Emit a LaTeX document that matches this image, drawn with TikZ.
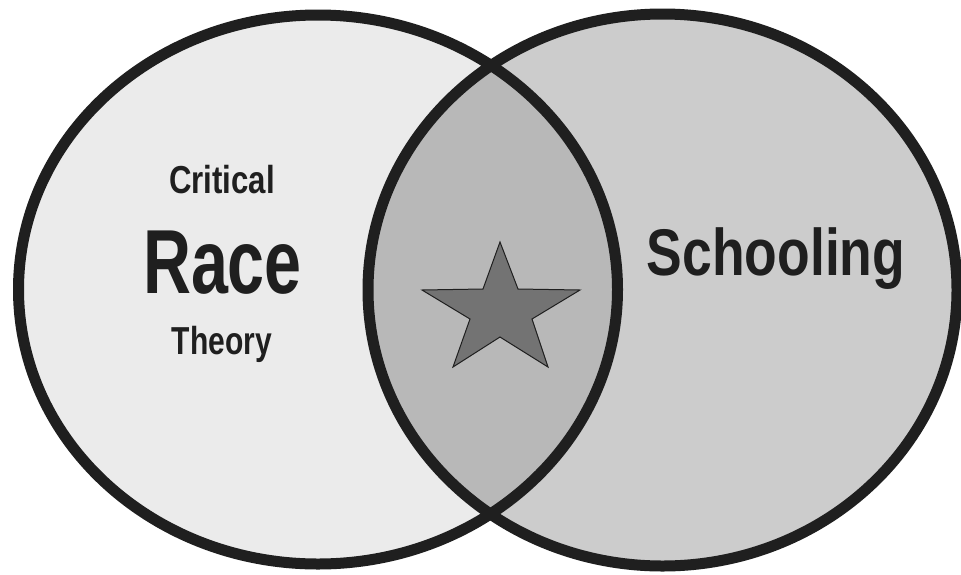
\documentclass[tikz,border=0pt]{standalone}
\usepackage{fontspec}
\setmainfont{Liberation Sans}
\definecolor{leftfill}{gray}{0.92}
\definecolor{rightfill}{gray}{0.80}
\definecolor{midfill}{gray}{0.72}
\definecolor{starfill}{gray}{0.45}
\definecolor{ink}{gray}{0.12}
\tikzset{
  ring/.style={draw=ink, line width=11pt},
  lbl/.style={anchor=base, inner sep=0pt, text=ink, font=\bfseries}
}
\begin{document}
\begin{tikzpicture}[x=1pt,y=-1pt]
\useasboundingbox (0,0) rectangle (961,574);
\fill[white] (0,0) rectangle (961,574);
% fills
\fill[leftfill] (318,289.5) ellipse [x radius=299.5, y radius=274.5];
\fill[rightfill] (662.5,290) ellipse [x radius=294.5, y radius=276];
\begin{scope}
  \clip (318,289.5) ellipse [x radius=299.5, y radius=274.5];
  \fill[midfill] (662.5,290) ellipse [x radius=294.5, y radius=276];
\end{scope}
% rings
\draw[ring] (318,289.5) ellipse [x radius=299.5, y radius=274.5];
\draw[ring] (662.5,290) ellipse [x radius=294.5, y radius=276];
% star
\draw[fill=starfill, draw=ink, line width=1pt]
  (500,242) -- (518,289) -- (580,290) -- (532,319) -- (548,367)
  -- (500,337) -- (453,367) -- (470,319) -- (422,290) -- (483,289) -- cycle;
% texts
\node[lbl] (critical) at (222,193) {\fontsize{39}{39}\selectfont\scalebox{0.80}[1]{Critical}};
\node[lbl] (race) at (222.5,293) {\fontsize{91}{91}\selectfont\scalebox{0.73}[1]{Race}};
\node[lbl] (theory) at (222,354) {\fontsize{39}{39}\selectfont\scalebox{0.77}[1]{Theory}};
\node[lbl] (schooling) at (776,275) {\fontsize{66}{66}\selectfont\scalebox{0.81}[1]{Schooling}};
\end{tikzpicture}
\end{document}
